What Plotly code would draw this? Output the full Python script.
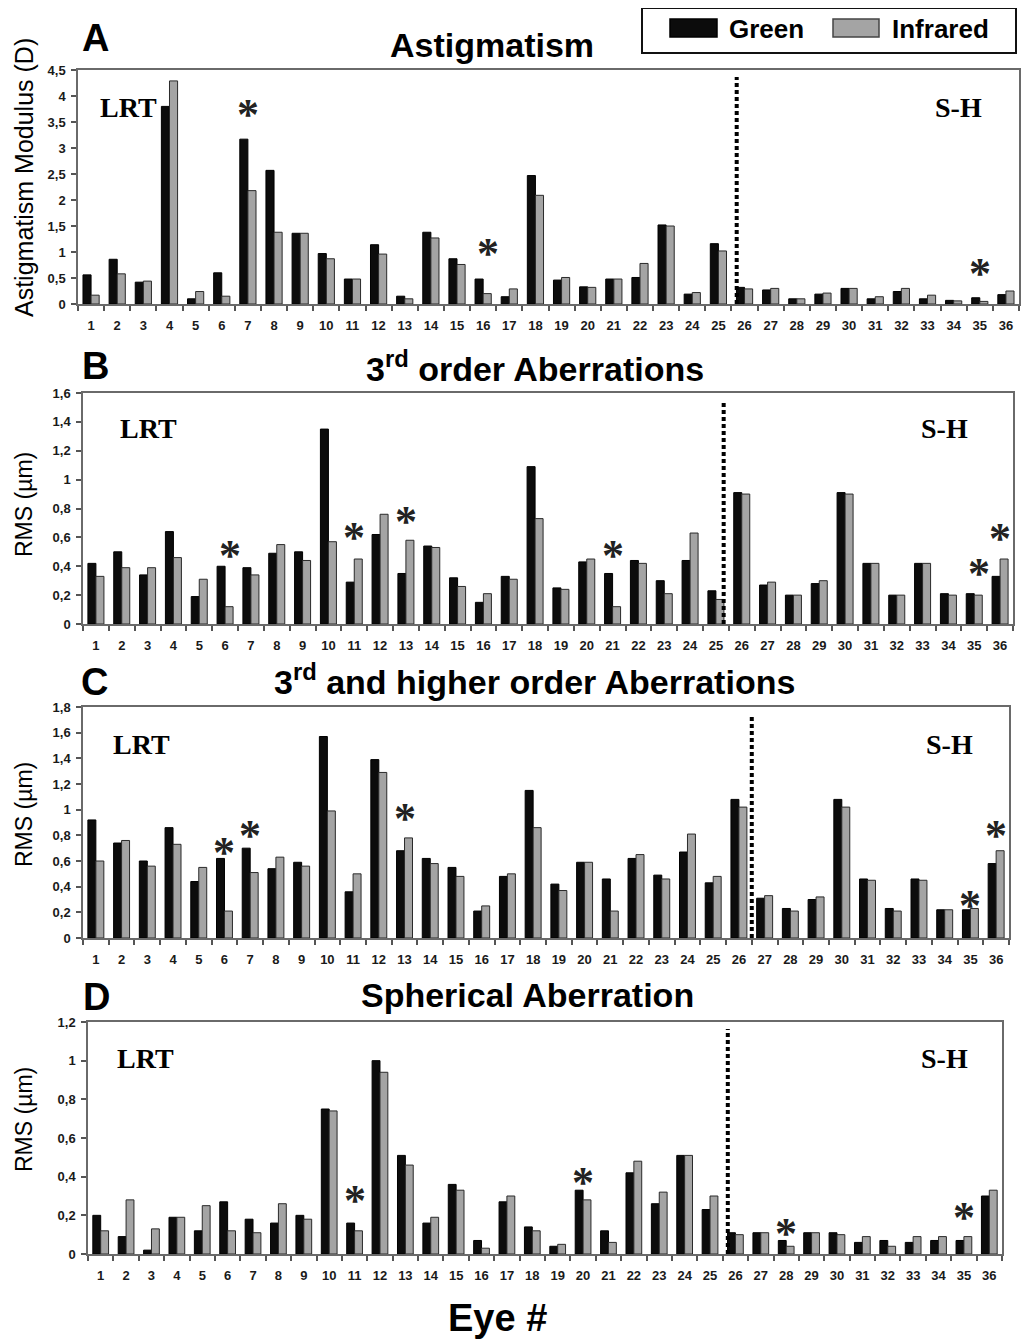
import plotly.graph_objects as go

# page body has an 8px margin, so the figure is drawn 8px smaller and all
# reference pixel positions are shifted by that offset
OFF = 8
W, H = 1031 - OFF, 1340 - OFF

eyes = list(range(1, 37))
eye_labels = [str(e) for e in eyes]

astig_green = [0.56, 0.86, 0.42, 3.80, 0.10, 0.60, 3.17, 2.57, 1.36, 0.97, 0.48, 1.14,
               0.15, 1.38, 0.87, 0.48, 0.14, 2.47, 0.46, 0.33, 0.48, 0.51, 1.52, 0.19,
               1.16, 0.32, 0.27, 0.10, 0.19, 0.30, 0.10, 0.24, 0.10, 0.07, 0.12, 0.18]
astig_ir = [0.17, 0.58, 0.44, 4.29, 0.24, 0.15, 2.18, 1.38, 1.36, 0.87, 0.48, 0.96,
            0.10, 1.27, 0.76, 0.20, 0.29, 2.09, 0.51, 0.32, 0.48, 0.78, 1.50, 0.22,
            1.02, 0.29, 0.30, 0.10, 0.21, 0.30, 0.14, 0.30, 0.17, 0.06, 0.05, 0.25]

third_green = [0.42, 0.50, 0.34, 0.64, 0.19, 0.40, 0.39, 0.49, 0.50, 1.35, 0.29, 0.62,
               0.35, 0.54, 0.32, 0.15, 0.33, 1.09, 0.25, 0.43, 0.35, 0.44, 0.30, 0.44,
               0.23, 0.91, 0.27, 0.20, 0.28, 0.91, 0.42, 0.20, 0.42, 0.21, 0.21, 0.33]
third_ir = [0.33, 0.39, 0.39, 0.46, 0.31, 0.12, 0.34, 0.55, 0.44, 0.57, 0.45, 0.76,
            0.58, 0.53, 0.26, 0.21, 0.31, 0.73, 0.24, 0.45, 0.12, 0.42, 0.21, 0.63,
            0.17, 0.90, 0.29, 0.20, 0.30, 0.90, 0.42, 0.20, 0.42, 0.20, 0.20, 0.45]

higher_green = [0.92, 0.74, 0.60, 0.86, 0.44, 0.62, 0.70, 0.54, 0.59, 1.57, 0.36, 1.39,
                0.68, 0.62, 0.55, 0.21, 0.48, 1.15, 0.42, 0.59, 0.46, 0.62, 0.49, 0.67,
                0.43, 1.08, 0.31, 0.23, 0.30, 1.08, 0.46, 0.23, 0.46, 0.22, 0.22, 0.58]
higher_ir = [0.60, 0.76, 0.56, 0.73, 0.55, 0.21, 0.51, 0.63, 0.56, 0.99, 0.50, 1.29,
             0.78, 0.58, 0.48, 0.25, 0.50, 0.86, 0.37, 0.59, 0.21, 0.65, 0.46, 0.81,
             0.48, 1.02, 0.33, 0.21, 0.32, 1.02, 0.45, 0.21, 0.45, 0.22, 0.23, 0.68]

sph_green = [0.20, 0.09, 0.02, 0.19, 0.12, 0.27, 0.18, 0.16, 0.20, 0.75, 0.16, 1.00,
             0.51, 0.16, 0.36, 0.07, 0.27, 0.14, 0.04, 0.33, 0.12, 0.42, 0.26, 0.51,
             0.23, 0.11, 0.11, 0.07, 0.11, 0.11, 0.06, 0.07, 0.06, 0.07, 0.07, 0.30]
sph_ir = [0.12, 0.28, 0.13, 0.19, 0.25, 0.12, 0.11, 0.26, 0.18, 0.74, 0.12, 0.94,
          0.46, 0.19, 0.33, 0.03, 0.30, 0.12, 0.05, 0.28, 0.06, 0.48, 0.32, 0.51,
          0.30, 0.10, 0.11, 0.04, 0.11, 0.10, 0.09, 0.04, 0.09, 0.09, 0.09, 0.33]

astig_ticks = [0, 0.5, 1, 1.5, 2, 2.5, 3, 3.5, 4, 4.5]
astig_ticktext = ["0", "0,5", "1", "1,5", "2", "2,5", "3", "3,5", "4", "4,5"]
third_ticks = [0, 0.2, 0.4, 0.6, 0.8, 1.0, 1.2, 1.4, 1.6]
third_ticktext = ["0", "0,2", "0,4", "0,6", "0,8", "1", "1,2", "1,4", "1,6"]
higher_ticks = [0, 0.2, 0.4, 0.6, 0.8, 1.0, 1.2, 1.4, 1.6, 1.8]
higher_ticktext = ["0", "0,2", "0,4", "0,6", "0,8", "1", "1,2", "1,4", "1,6", "1,8"]
sph_ticks = [0, 0.2, 0.4, 0.6, 0.8, 1.0, 1.2]
sph_ticktext = ["0", "0,2", "0,4", "0,6", "0,8", "1", "1,2"]

# significance markers: (eye, value)
astig_stars = [(7, 3.73), (16.2, 1.04), (35, 0.67)]
third_stars = [(6.2, 0.50), (11, 0.63), (13, 0.74), (21, 0.50), (35.2, 0.38), (36, 0.62)]
higher_stars = [(6, 0.70), (7, 0.83), (13, 0.96), (35, 0.285), (36, 0.83)]
sph_stars = [(11, 0.30), (20, 0.39), (28, 0.125), (35, 0.21)]

SANS = "Liberation Sans, Arial, sans-serif"
SERIF = "Liberation Serif, Times New Roman, serif"
GREEN_C = "#0c0c0c"
IR_C = "#a4a4a4"

panels = [
    dict(letter="A", title="Astigmatism", green=astig_green, ir=astig_ir,
         ticks=astig_ticks, ticktext=astig_ticktext, ytitle="Astigmatism Modulus (D)",
         box=(78, 1019, 70, 304), divider=25.7, stars=astig_stars,
         letter_xy=(95, 38), title_xy=(492, 45), ytitle_xy=(24, 178), ytitle_size=25,
         lrt=(128, 107), sh=(958, 107)),
    dict(letter="B", title="3<sup>rd</sup> order Aberrations", green=third_green, ir=third_ir,
         ticks=third_ticks, ticktext=third_ticktext, ytitle="RMS (µm)",
         box=(83, 1013, 393, 624), divider=25.3, stars=third_stars,
         letter_xy=(95, 366), title_xy=(535, 367), ytitle_xy=(24, 505), ytitle_size=23,
         lrt=(148, 428), sh=(944, 428)),
    dict(letter="C", title="3<sup>rd</sup> and higher order Aberrations", green=higher_green,
         ir=higher_ir, ticks=higher_ticks, ticktext=higher_ticktext, ytitle="RMS (µm)",
         box=(83, 1009, 707, 938), divider=26.5, stars=higher_stars,
         letter_xy=(94, 682), title_xy=(534, 680), ytitle_xy=(24, 815), ytitle_size=23,
         lrt=(141, 744), sh=(949, 744)),
    dict(letter="D", title="Spherical Aberration", green=sph_green, ir=sph_ir,
         ticks=sph_ticks, ticktext=sph_ticktext, ytitle="RMS (µm)",
         box=(88, 1002, 1022, 1254), divider=25.7, stars=sph_stars,
         letter_xy=(96, 997), title_xy=(527, 995), ytitle_xy=(24, 1120), ytitle_size=23,
         lrt=(145, 1058), sh=(944, 1058)),
]


def px(x, y):
    return (x - OFF) / W, 1 - (y - OFF) / H


fig = go.Figure()
annotations = []
shapes = []
layout_axes = {}

for i, p in enumerate(panels):
    n = "" if i == 0 else str(i + 1)
    xa, ya = "x" + n, "y" + n
    x0, x1, y0, y1 = p["box"]
    fig.add_trace(go.Bar(x=eyes, y=p["green"], name="Green", xaxis=xa, yaxis=ya,
                         marker=dict(color=GREEN_C, line=dict(color="#000000", width=1)),
                         showlegend=False))
    fig.add_trace(go.Bar(x=eyes, y=p["ir"], name="Infrared", xaxis=xa, yaxis=ya,
                         marker=dict(color=IR_C, line=dict(color="#2a2a2a", width=1)),
                         showlegend=False))
    dx0, dy1 = px(x0, y0)
    dx1, dy0 = px(x1, y1)
    layout_axes["xaxis" + n] = dict(
        domain=[dx0, dx1], anchor=ya, range=[0.5, 36.5], automargin=False,
        tickmode="array", tickvals=eyes, ticktext=eye_labels, ticks="",
        showline=True, linecolor="#6a6a6a", linewidth=1.5, mirror=True,
        showgrid=False, zeroline=False,
        minor=dict(tickmode="array", tickvals=[k + 0.5 for k in range(0, 37)],
                   ticks="outside", ticklen=5, tickcolor="#555555", tickwidth=1.5),
        tickfont=dict(family=SANS, size=13, color="#1a1a1a", weight="bold"),
        ticklabelstandoff=9, fixedrange=True)
    layout_axes["yaxis" + n] = dict(
        domain=[dy0, dy1], anchor=xa, range=[0, p["ticks"][-1]],
        automargin=False,
        tickmode="array", tickvals=p["ticks"], ticktext=p["ticktext"],
        ticks="outside", ticklen=5, tickcolor="#555555", tickwidth=1.5,
        showline=True, linecolor="#6a6a6a", linewidth=1.5, mirror=True,
        showgrid=False, zeroline=False,
        tickfont=dict(family=SANS, size=13, color="#1a1a1a", weight="bold"),
        ticklabelstandoff=3, fixedrange=True)

    # dotted divider between LRT and S-H groups
    shapes.append(dict(type="line", xref=xa, yref=ya + " domain",
                       x0=p["divider"], x1=p["divider"], y0=0, y1=0.97,
                       line=dict(color="#000000", width=4, dash="4px,3px")))

    def ann(text, xy, size, family=SANS, bold=True, angle=0, **kw):
        ax, ay = px(*xy)
        d = dict(text=text, x=ax, y=ay, xref="paper", yref="paper", showarrow=False,
                 xanchor="center", yanchor="middle", textangle=angle,
                 font=dict(family=family, size=size, color="#000000",
                           weight="bold" if bold else "normal"))
        d.update(kw)
        annotations.append(d)

    ann(p["letter"], p["letter_xy"], 38)
    ann(p["title"], p["title_xy"], 34)
    ann(p["ytitle"], p["ytitle_xy"], p["ytitle_size"], bold=False, angle=-90)
    ann("LRT", p["lrt"], 28, family=SERIF)
    ann("S-H", p["sh"], 28, family=SERIF)

    for ex, ey in p["stars"]:
        annotations.append(dict(text="*", x=ex, y=ey, xref=xa, yref=ya, showarrow=False,
                                xanchor="center", yanchor="middle", yshift=-4,
                                font=dict(family=SERIF, size=44, color="#222222",
                                          weight="bold")))

# x-axis title
ex_, ey_ = px(497, 1318)
annotations.append(dict(text="Eye #", x=ex_, y=ey_, xref="paper", yref="paper",
                        showarrow=False, xanchor="center", yanchor="middle",
                        font=dict(family=SANS, size=38, color="#000000", weight="bold")))

# legend (drawn as box + swatches + labels)
lx0, ly0 = px(642, 8)
lx1, ly1 = px(1016, 53)
shapes.append(dict(type="rect", xref="paper", yref="paper", x0=lx0, x1=lx1, y0=ly1, y1=ly0,
                   line=dict(color="#111111", width=2), fillcolor="white"))
for (sx0, sx1, col, lcol, label, tx) in [(670, 717, GREEN_C, "#000000", "Green", 766),
                                         (833, 879, IR_C, "#444444", "Infrared", 940)]:
    a, b = px(sx0, 19)
    c, d = px(sx1, 37)
    shapes.append(dict(type="rect", xref="paper", yref="paper", x0=a, x1=c, y0=d, y1=b,
                       line=dict(color=lcol, width=1.5), fillcolor=col))
    tx_, ty_ = px(tx, 29)
    annotations.append(dict(text=label, x=tx_, y=ty_, xref="paper", yref="paper",
                            showarrow=False, xanchor="center", yanchor="middle",
                            font=dict(family=SANS, size=26, color="#000000", weight="bold")))

fig.update_layout(
    width=W, height=H, margin=dict(l=0, r=0, t=0, b=0, pad=0, autoexpand=False),
    paper_bgcolor="white", plot_bgcolor="white",
    barmode="group", bargap=0.38, bargroupgap=0,
    showlegend=False, annotations=annotations, shapes=shapes,
    **layout_axes)

fig.write_html("out.html")
